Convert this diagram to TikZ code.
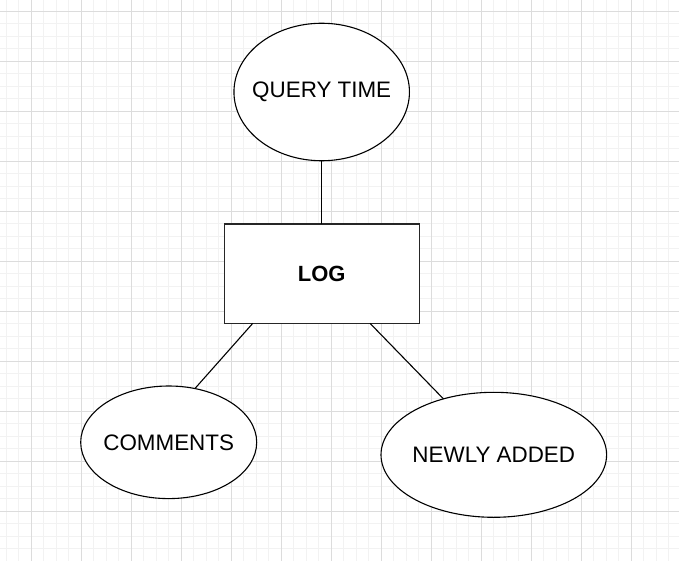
\documentclass[tikz,border=0pt]{standalone}
\usepackage{fontspec}
\setmainfont{Liberation Sans}
\usetikzlibrary{shapes.geometric}
\definecolor{gridminor}{HTML}{F2F2F2}
\definecolor{gridmajor}{HTML}{DCDCDC}
\newcommand{\zw}[1]{\makebox[0pt]{#1}}
\tikzset{
  attr/.style={ellipse, draw=black, line width=1.1pt, fill=white, inner sep=0pt, outer sep=0pt, font=\fontsize{22.4}{26}\selectfont},
  entity/.style={rectangle, draw=black!85, line width=1.1pt, fill=white, inner sep=0pt, outer sep=0pt, font=\bfseries\fontsize{22}{26}\selectfont},
  link/.style={draw=black, line width=1.1pt}
}
\begin{document}
\begin{tikzpicture}[x=1pt,y=-1pt]
\useasboundingbox (0,0) rectangle (679,561);
\fill[white] (0,0) rectangle (679,561);
% minor grid
\foreach \i in {0,...,54} {
  \draw[gridminor, line width=0.8pt] ({6.3+12.5*\i},0) -- ({6.3+12.5*\i},561);
}
\foreach \j in {0,...,44} {
  \draw[gridminor, line width=0.8pt] (0,{-1.2+12.5*\j}) -- (679,{-1.2+12.5*\j});
}
% major grid
\foreach \i in {0,...,13} {
  \draw[gridmajor, line width=0.8pt] ({31.3+50*\i},0) -- ({31.3+50*\i},561);
}
\foreach \j in {0,...,11} {
  \draw[gridmajor, line width=0.8pt] (0,{11.3+50*\j}) -- (679,{11.3+50*\j});
}
% nodes
\node[attr, minimum width=175.5pt, minimum height=137.5pt] (query) at (321.7,92) {\zw{QUERY TIME}};
\node[entity, minimum width=194.7pt, minimum height=99.3pt] (log) at (321.7,273.7) {LOG};
\node[attr, minimum width=176pt, minimum height=112.6pt] (comments) at (168.7,442.3) {\zw{COMMENTS}};
\node[attr, minimum width=225.6pt, minimum height=125pt] (newly) at (493.8,454.8) {\zw{NEWLY ADDED}};
% connector end points on the box
\coordinate (logl) at ([xshift=28.4pt]log.south west);
\coordinate (logr) at ([xshift=-49pt]log.south east);
% connectors
\draw[link] (log.north) -- (query.south);
\draw[link] (logl) -- (comments.64);
\draw[link] (logr) -- (newly.132.7);
\end{tikzpicture}
\end{document}
